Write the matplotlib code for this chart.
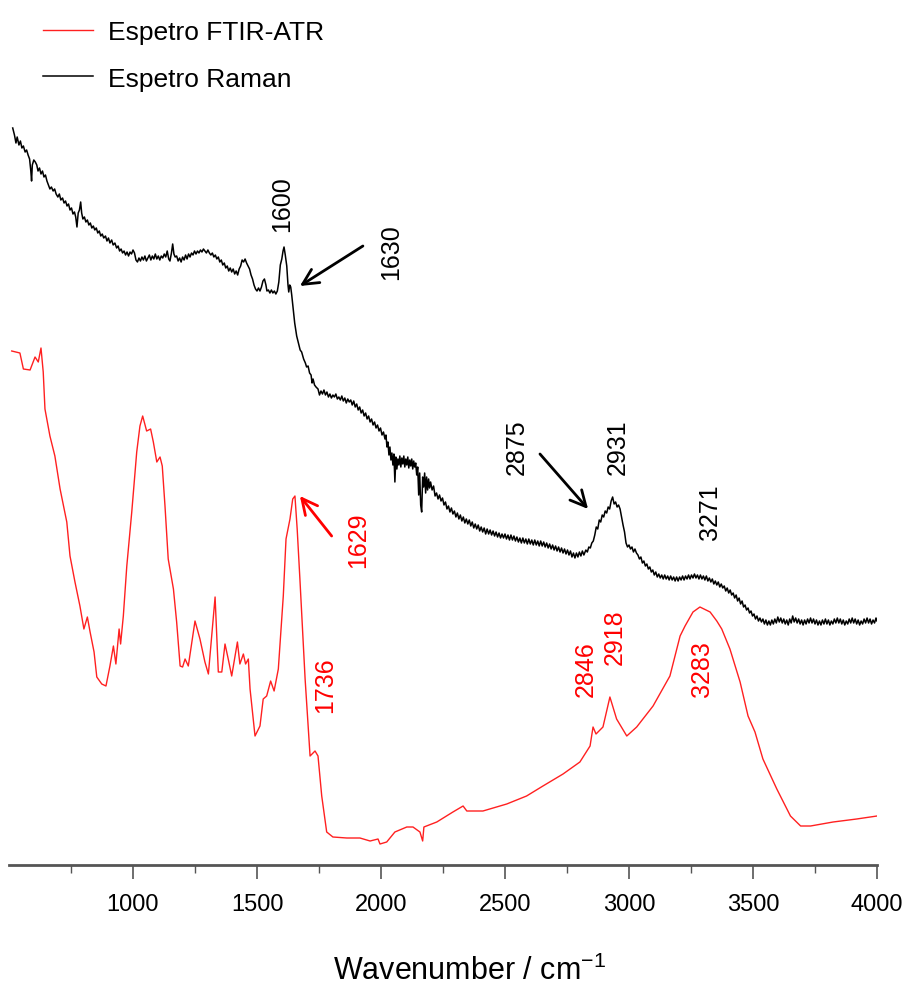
import matplotlib
matplotlib.use("Agg")
import matplotlib.pyplot as plt
from matplotlib.ticker import FixedLocator

plt.rcParams['font.family'] = ['Liberation Sans', 'DejaVu Sans']
plt.rcParams['mathtext.fontset'] = 'custom'
plt.rcParams['mathtext.rm'] = 'Liberation Sans'

# ---------------- data (wavenumber / cm-1, arbitrary intensity) ----------------
raman_wn = [515, 522, 528, 533, 540, 546, 552, 558, 565, 571, 577, 583, 588, 591, 594, 600, 606, 612,
            617, 623, 629, 635, 641, 647, 653, 659, 665, 671, 678, 684, 690, 697, 703, 709, 716, 722,
            728, 734, 740, 746, 752, 758, 764, 769, 774, 779, 784, 789, 793, 798, 804, 810, 816, 822,
            828, 834, 840, 846, 852, 858, 864, 870, 876, 882, 889, 895, 901, 907, 914, 920, 927, 934,
            940, 946, 952, 958, 964, 970, 976, 982, 988, 994, 1000, 1006, 1012, 1018, 1024, 1030, 1036,
            1042, 1048, 1054, 1060, 1066, 1072, 1078, 1084, 1090, 1096, 1102, 1108, 1114, 1120, 1126,
            1132, 1138, 1144, 1149, 1155, 1160, 1165, 1170, 1176, 1182, 1188, 1194, 1200, 1206, 1212,
            1218, 1224, 1230, 1236, 1242, 1248, 1254, 1260, 1266, 1272, 1278, 1284, 1290, 1296, 1302,
            1308, 1314, 1320, 1326, 1332, 1338, 1344, 1350, 1356, 1362, 1368, 1374, 1380, 1386, 1392,
            1398, 1404, 1410, 1416, 1422, 1428, 1434, 1440, 1446, 1452, 1458, 1464, 1470, 1476, 1482,
            1488, 1494, 1500, 1506, 1512, 1518, 1524, 1530, 1536, 1540, 1546, 1552, 1558, 1564, 1570,
            1576, 1582, 1588, 1594, 1600, 1605, 1609, 1614, 1620, 1625, 1628, 1632, 1636, 1640, 1646,
            1652, 1660, 1668, 1674, 1680, 1688, 1695, 1700, 1706, 1712, 1718, 1722, 1726, 1732, 1738,
            1746, 1752, 1758, 1764, 1770, 1776, 1782, 1788, 1794, 1800, 1806, 1812, 1818, 1824, 1830,
            1836, 1842, 1848, 1854, 1860, 1866, 1872, 1878, 1884, 1890, 1896, 1902, 1908, 1914, 1920,
            1926, 1932, 1938, 1944, 1950, 1956, 1962, 1968, 1974, 1980, 1986, 1992, 1998, 2004, 2010,
            2016, 2020, 2024, 2028, 2032, 2036, 2040, 2044, 2048, 2052, 2056, 2060, 2064, 2068, 2072,
            2076, 2080, 2084, 2088, 2092, 2096, 2100, 2104, 2108, 2112, 2116, 2120, 2124, 2128, 2132,
            2136, 2140, 2144, 2148, 2152, 2156, 2160, 2164, 2168, 2172, 2176, 2180, 2184, 2188, 2192,
            2196, 2200, 2206, 2212, 2218, 2224, 2230, 2236, 2242, 2248, 2254, 2260, 2266, 2272, 2278,
            2284, 2290, 2296, 2302, 2308, 2314, 2320, 2326, 2332, 2338, 2344, 2350, 2356, 2362, 2368,
            2374, 2380, 2386, 2392, 2398, 2404, 2410, 2416, 2422, 2428, 2434, 2440, 2446, 2452, 2458,
            2464, 2470, 2476, 2482, 2488, 2494, 2500, 2506, 2512, 2518, 2524, 2530, 2536, 2542, 2548,
            2554, 2560, 2566, 2572, 2578, 2584, 2590, 2596, 2602, 2608, 2614, 2620, 2626, 2632, 2638,
            2644, 2650, 2656, 2662, 2668, 2674, 2680, 2686, 2692, 2698, 2704, 2710, 2716, 2722, 2728,
            2734, 2740, 2746, 2752, 2758, 2764, 2770, 2776, 2782, 2788, 2794, 2800, 2806, 2812, 2818,
            2826, 2832, 2838, 2844, 2850, 2856, 2862, 2868, 2874, 2880, 2886, 2892, 2898, 2904, 2910,
            2916, 2922, 2928, 2934, 2940, 2946, 2952, 2958, 2964, 2970, 2976, 2982, 2988, 2994, 3000,
            3006, 3012, 3018, 3024, 3030, 3036, 3042, 3048, 3054, 3060, 3066, 3072, 3078, 3084, 3090,
            3096, 3102, 3108, 3114, 3120, 3126, 3132, 3138, 3144, 3150, 3156, 3162, 3168, 3174, 3180,
            3186, 3192, 3198, 3204, 3210, 3216, 3222, 3228, 3234, 3240, 3246, 3252, 3258, 3264, 3270,
            3276, 3282, 3288, 3294, 3300, 3306, 3312, 3318, 3324, 3330, 3336, 3342, 3348, 3354, 3360,
            3366, 3372, 3378, 3384, 3390, 3396, 3402, 3408, 3414, 3420, 3426, 3432, 3438, 3444, 3450,
            3456, 3462, 3468, 3474, 3480, 3486, 3492, 3498, 3504, 3510, 3516, 3522, 3528, 3534, 3540,
            3546, 3552, 3558, 3564, 3570, 3576, 3582, 3588, 3594, 3600, 3606, 3612, 3618, 3624, 3630,
            3636, 3642, 3648, 3654, 3660, 3666, 3672, 3678, 3684, 3690, 3696, 3702, 3708, 3714, 3720,
            3726, 3732, 3738, 3744, 3750, 3756, 3762, 3768, 3774, 3780, 3786, 3792, 3798, 3804, 3810,
            3816, 3822, 3828, 3834, 3840, 3846, 3852, 3858, 3864, 3870, 3876, 3882, 3888, 3894, 3900,
            3906, 3912, 3918, 3924, 3930, 3936, 3942, 3948, 3954, 3960, 3966, 3972, 3978, 3984, 3990,
            3996, 4000]
raman_int = [737, 730, 722, 728, 720, 724, 717, 719, 713, 715, 710, 706, 694, 684, 700, 705, 703, 700,
             694, 697, 691, 694, 688, 690, 684, 680, 676, 678, 674, 676, 671, 668, 671, 665, 667, 662,
             664, 659, 661, 655, 657, 651, 653, 648, 638, 652, 655, 663, 652, 646, 648, 643, 645, 640,
             642, 637, 639, 635, 637, 632, 634, 629, 631, 627, 629, 624, 627, 622, 625, 620, 622, 617,
             619, 614, 616, 612, 614, 610, 613, 609, 613, 611, 615, 612, 605, 603, 607, 604, 608,
             605, 609, 604, 607, 610, 605, 609, 606, 611, 606, 609, 605, 609, 607, 611,
             608, 614, 606, 604, 612, 621, 611, 608, 609, 604, 607, 603, 608, 605, 610,
             606, 611, 608, 612, 610, 614, 611, 614, 612, 615, 613, 616, 614, 612, 615,
             612, 610, 612, 608, 610, 606, 608, 603, 605, 600, 602, 597, 599, 594, 597,
             593, 596, 591, 594, 590, 596, 599, 605, 603, 606, 602, 599, 596, 590, 586,
             580, 576, 574, 577, 574, 578, 584, 586, 580, 574, 575, 572, 575, 572, 574,
             571, 574, 583, 600, 606, 614, 618, 610, 599, 580, 573, 580, 578, 570, 556,
             542, 529, 521, 515, 513, 506, 502, 498, 499, 492, 490, 482, 486, 480, 478,
             476, 470, 474, 471, 475, 470, 473, 468, 471, 467, 470, 468, 471, 466, 468,
             465, 469, 464, 467, 462, 466, 463, 465, 460, 464, 458, 461, 455, 458, 452,
             455, 449, 452, 446, 449, 443, 446, 440, 443, 437, 440, 434, 437, 430, 433,
             426, 430, 418, 423, 410, 418, 405, 412, 400, 411, 383, 408, 396, 406, 400,
             409, 398, 407, 401, 409, 398, 406, 400, 408, 397, 405, 399, 406, 396, 404,
             398, 402, 390, 398, 370, 392, 360, 353, 388, 378, 392, 372, 388, 375, 386,
             377, 383, 375, 379, 369, 372, 366, 370, 364, 367, 360, 363, 356, 359, 353,
             357, 351, 354, 348, 352, 346, 350, 344, 348, 342, 346, 341, 345, 339, 343,
             337, 341, 336, 340, 334, 338, 333, 337, 331, 336, 331, 335, 330, 334, 329,
             333, 328, 332, 327, 331, 327, 331, 326, 330, 325, 330, 325, 329, 324, 328,
             323, 327, 322, 327, 322, 326, 321, 326, 321, 325, 320, 325, 320, 324, 319,
             324, 319, 323, 318, 322, 317, 321, 316, 320, 315, 319, 314, 318, 313, 317,
             312, 316, 311, 315, 310, 314, 308, 312, 307, 312, 308, 313, 309, 314, 310,
             315, 313, 318, 317, 322, 324, 330, 338, 336, 345, 343, 350, 348, 354, 352,
             358, 356, 364, 368, 361, 363, 358, 360, 356, 348, 340, 333, 322, 318, 320,
             316, 318, 313, 316, 312, 310, 306, 308, 302, 304, 299, 301, 296, 298, 293,
             295, 290, 293, 288, 291, 287, 290, 286, 290, 286, 289, 285, 289, 285, 288,
             284, 288, 284, 288, 285, 289, 285, 289, 286, 290, 286, 290, 287, 291, 287,
             290, 286, 290, 286, 289, 285, 289, 284, 287, 283, 286, 281, 284, 280, 283,
             278, 281, 277, 279, 274, 277, 272, 275, 270, 272, 267, 270, 264, 267, 261,
             264, 258, 260, 255, 257, 252, 254, 249, 251, 246, 249, 244, 247, 243, 246,
             241, 245, 240, 244, 240, 245, 241, 246, 242, 248, 243, 247, 242, 246, 241,
             245, 240, 246, 242, 249, 243, 247, 242, 246, 241, 245, 240, 245, 241, 246,
             242, 247, 242, 246, 241, 245, 240, 244, 240, 245, 241, 246, 241, 245, 240,
             244, 241, 246, 242, 247, 242, 246, 241, 245, 240, 244, 241, 246, 242, 247,
             242, 246, 241, 245, 240, 244, 241, 246, 242, 247, 242, 246, 241, 245, 242,
             247, 244]

ftir_wn = [511, 544, 558, 585, 605, 618, 629, 638, 645, 665, 685, 706, 733, 746, 766, 786,
           802, 816, 827, 843, 854, 874, 891, 907, 921, 931, 944, 950, 961, 975, 995, 1015,
           1028, 1039, 1055, 1071, 1082, 1096, 1109, 1118, 1129, 1142, 1163, 1176, 1190, 1200,
           1210, 1223, 1250, 1270, 1290, 1304, 1331, 1344, 1358, 1371, 1384, 1398, 1421, 1431,
           1445, 1454, 1465, 1472, 1492, 1512, 1525, 1539, 1555, 1569, 1586, 1606, 1617, 1633,
           1644, 1653, 1662, 1673, 1694, 1714, 1734, 1746, 1761, 1781, 1806, 1862, 1915, 1956,
           1988, 1996, 2023, 2056, 2104, 2129, 2157, 2168, 2173, 2225, 2290, 2331, 2346, 2411,
           2507, 2587, 2653, 2734, 2802, 2843, 2855, 2867, 2895, 2923, 2950, 2991, 3031, 3097,
           3165, 3206, 3226, 3258, 3286, 3327, 3354, 3374, 3407, 3448, 3480, 3508, 3540, 3596,
           3651, 3692, 3732, 3823, 3918, 4000]
ftir_int = [514, 512, 496, 495, 508, 503, 517, 493, 456, 429, 409, 376, 343, 309, 283, 259,
            236, 248, 233, 213, 188, 181, 179, 199, 219, 201, 236, 221, 249, 299, 353, 413,
            439, 449, 434, 436, 423, 403, 408, 399, 359, 306, 276, 243, 199, 198,
            206, 199, 244, 226, 203, 191, 268, 193, 193, 221, 206, 189, 223, 201,
            211, 201, 206, 176, 129, 139, 166, 169, 184, 174, 196, 269, 326, 346,
            366, 369, 336, 286, 186, 109, 114, 109, 69, 33, 28, 27, 27, 24,
            26, 21, 23, 33, 38, 38, 33, 24, 38, 43, 53, 59, 54, 54,
            61, 69, 79, 91, 103, 119, 138, 131, 138, 168, 146, 129, 138, 159,
            189, 229, 239, 253, 258, 253, 244, 236, 216, 183, 149, 133, 106, 76,
            49, 39, 39, 43, 46, 49]

legend_labels = ["Espetro FTIR-ATR", "Espetro Raman"]
x_major = [1000, 1500, 2000, 2500, 3000, 3500, 4000]
x_minor = [750, 1250, 1750, 2250, 2750, 3250, 3750]

# peak labels: (text, x, y, colour)
peak_labels = [("1600", 1601, 662, "black"), ("1630", 2040, 614, "black"),
               ("2875", 2548, 419, "black"), ("2931", 2956, 419, "black"),
               ("3271", 3327, 354, "black"),
               ("1629", 1907, 326, "red"), ("1736", 1774, 181, "red"),
               ("2846", 2827, 197, "red"), ("2918", 2944, 229, "red"),
               ("3283", 3294, 197, "red")]
# arrows: (tail, head, colour)
arrows = [((1927, 619), (1673, 579), "black"),
          ((1801, 329), (1673, 369), "red"),
          ((2641, 411), (2835, 356), "black")]

# ---------------- figure ----------------
W, H = 910, 987
fig = plt.figure(figsize=(W / 100, H / 100), dpi=100)
ax = fig.add_axes([9 / W, 121 / H, 868 / W, 866 / H])
ax.set_xlim(500, 4000)
ax.set_ylim(0, 866)

l_ftir, = ax.plot(ftir_wn, ftir_int, color="#ff2020", lw=1.0)
l_raman, = ax.plot(raman_wn, raman_int, color="black", lw=1.1)

for sp in ("left", "right", "top"):
    ax.spines[sp].set_visible(False)
ax.spines["bottom"].set_color("#555555")
ax.spines["bottom"].set_linewidth(2)
ax.set_yticks([])
ax.xaxis.set_major_locator(FixedLocator(x_major))
ax.xaxis.set_minor_locator(FixedLocator(x_minor))
ax.tick_params(axis="x", which="major", direction="out", length=10, width=1.2,
               color="#555555", labelsize=17, pad=10)
ax.tick_params(axis="x", which="minor", direction="out", length=6, width=1.0,
               color="#555555")

for txt, x, y, c in peak_labels:
    ax.text(x, y, txt, rotation=90, ha="center", va="center", fontsize=18, color=c)

for tail, head, c in arrows:
    ax.annotate("", xy=head, xytext=tail,
                arrowprops=dict(arrowstyle="->", lw=2, color=c, mutation_scale=28,
                                shrinkA=0, shrinkB=0))

fig.text(470 / W, 1 - 971 / H, r"Wavenumber / cm$^{\mathregular{-1}}$",
         ha="center", va="center", fontsize=22)

fig.legend([l_ftir, l_raman], legend_labels, loc="upper left",
           bbox_to_anchor=(19 / W, 1 + 3 / H), frameon=False, fontsize=19,
           handlelength=1.9, handletextpad=0.57, labelspacing=0.87)

fig.savefig("out.png", dpi=100)
